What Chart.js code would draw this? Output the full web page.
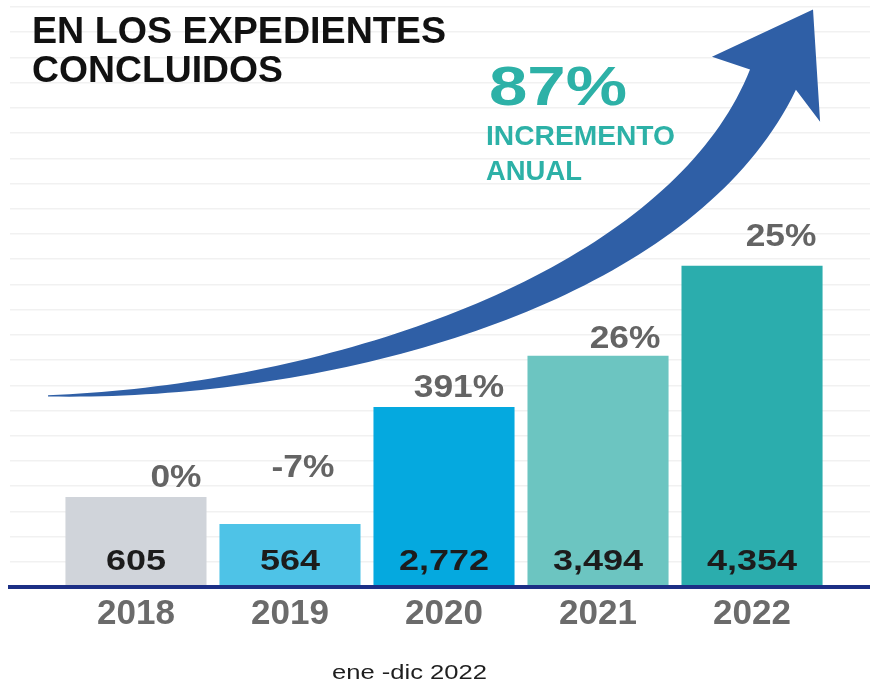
<!DOCTYPE html>
<html>
<head>
<meta charset="utf-8">
<script src="https://cdn.jsdelivr.net/npm/chart.js@4"></script>
<style>
  html, body { margin: 0; padding: 0; background: #ffffff; }
  #wrap { width: 870px; height: 684px; }
</style>
</head>
<body>
<div id="wrap"><canvas id="c" width="870" height="684"></canvas></div>
<script>
// ---- data ----
const years = ['2018', '2019', '2020', '2021', '2022'];
const expedientes = [605, 564, 2772, 3494, 4354];          // printed inside the bars
const variacion = ['0%', '-7%', '391%', '26%', '25%'];      // printed above the bars
// bar heights as drawn in the infographic (not proportional to the counts), in grid-line units
const barHeights = [3.57, 2.50, 7.14, 9.17, 12.74];
const titleLines = ['EN LOS EXPEDIENTES', 'CONCLUIDOS'];
const headline = '87%';
const headlineText = ['INCREMENTO', 'ANUAL'];
const periodo = 'ene -dic 2022';

// ---- styles ----
const barColors = ['#d0d4da', '#4ec3e7', '#05a9df', '#6cc5c1', '#2badad'];
const pctDX = [40, 13, 15, 27, 29];     // label offset from bar centre (px)
const pctGap = [10, 47, 10, 8, 20];     // gap between bar top and label baseline (px)
// decorative arrow: centre-line bezier and head, in axis units (x: category index, y: grid units)
const arrowCurve = [[-0.571, 7.58], [1.260, 7.70], [3.532, 11.79], [4.136, 20.12]];
const arrowHead = [[3.740, 21.03], [4.396, 22.90], [4.442, 18.45]];
const arrowNeckHalfWidth = 24.5;

const SANS = '"Liberation Sans", Arial, Helvetica, sans-serif';

function drawText(ctx, text, x, y, font, color, opts) {
  opts = opts || {};
  ctx.save();
  ctx.font = font;
  ctx.fillStyle = color;
  ctx.textBaseline = 'alphabetic';
  ctx.textAlign = 'left';
  const mw = ctx.measureText(text).width;
  const sx = opts.width ? opts.width / mw : (opts.sx || 1);
  const w = mw * sx;
  const left = opts.align === 'center' ? x - w / 2 : (opts.align === 'right' ? x - w : x);
  ctx.translate(left, y);
  ctx.scale(sx, 1);
  ctx.fillText(text, 0, 0);
  ctx.restore();
}

const arrowPlugin = {
  id: 'arrow',
  beforeDatasetsDraw(chart) {
    const {ctx, scales: {x, y}} = chart;
    const px = p => [x.getPixelForValue(p[0]), y.getPixelForValue(p[1])];
    const [P0, P1, P2, P3] = arrowCurve.map(px);
    const head = arrowHead.map(px);
    const B = t => {
      const u = 1 - t;
      return [u*u*u*P0[0] + 3*u*u*t*P1[0] + 3*u*t*t*P2[0] + t*t*t*P3[0],
              u*u*u*P0[1] + 3*u*u*t*P1[1] + 3*u*t*t*P2[1] + t*t*t*P3[1]];
    };
    const D = t => {
      const u = 1 - t;
      return [3*u*u*(P1[0]-P0[0]) + 6*u*t*(P2[0]-P1[0]) + 3*t*t*(P3[0]-P2[0]),
              3*u*u*(P1[1]-P0[1]) + 6*u*t*(P2[1]-P1[1]) + 3*t*t*(P3[1]-P2[1])];
    };
    const N = 80, upper = [], lower = [];
    for (let i = 0; i <= N; i++) {
      const t = i / N, c = B(t), d = D(t);
      const len = Math.hypot(d[0], d[1]) || 1;
      const n = [d[1] / len, -d[0] / len];
      const hw = 0.6 + arrowNeckHalfWidth * t;
      upper.push([c[0] + n[0] * hw, c[1] + n[1] * hw]);
      lower.push([c[0] - n[0] * hw, c[1] - n[1] * hw]);
    }
    ctx.save();
    ctx.fillStyle = '#2f5fa6';
    ctx.beginPath();
    ctx.moveTo(upper[0][0], upper[0][1]);
    upper.forEach(p => ctx.lineTo(p[0], p[1]));
    head.forEach(p => ctx.lineTo(p[0], p[1]));
    for (let i = lower.length - 1; i >= 0; i--) ctx.lineTo(lower[i][0], lower[i][1]);
    ctx.closePath();
    ctx.fill();
    ctx.restore();
  }
};

const textPlugin = {
  id: 'texts',
  afterDraw(chart) {
    const {ctx, scales: {x, y}} = chart;
    // title
    drawText(ctx, titleLines[0], 32, 43, 'bold 37px ' + SANS, '#111111', {width: 414});
    drawText(ctx, titleLines[1], 32, 82, 'bold 37px ' + SANS, '#111111', {width: 251});
    // headline
    drawText(ctx, headline, 489, 105, 'bold 56px ' + SANS, '#2db1a7', {width: 138});
    drawText(ctx, headlineText[0], 486, 145, 'bold 28px ' + SANS, '#2db1a7', {width: 189});
    drawText(ctx, headlineText[1], 486, 180, 'bold 28px ' + SANS, '#2db1a7', {width: 96});
    // bar labels
    const base = y.getPixelForValue(0);
    years.forEach((yr, i) => {
      const cx = x.getPixelForValue(i);
      const top = y.getPixelForValue(barHeights[i]);
      drawText(ctx, expedientes[i].toLocaleString('en-US'), cx, base - 17,
        'bold 30px ' + SANS, '#1c1c1c', {sx: 1.2, align: 'center'});
      drawText(ctx, variacion[i], cx + pctDX[i], top - pctGap[i],
        'bold 31px ' + SANS, '#646464', {sx: 1.14, align: 'center'});
    });
    // period note
    drawText(ctx, periodo, 332, 679, '20px ' + SANS, '#1e1e1e', {width: 155});
  }
};

new Chart(document.getElementById('c'), {
  type: 'bar',
  data: {
    datasets: [{
      data: barHeights.map((h, i) => ({x: i, y: h})),
      backgroundColor: barColors,
      borderWidth: 0,
      barPercentage: 0.916,
      categoryPercentage: 1
    }]
  },
  options: {
    responsive: false,
    animation: false,
    devicePixelRatio: 1,
    layout: {padding: {top: 7, left: 10, right: 0, bottom: 0}},
    plugins: {legend: {display: false}, tooltip: {enabled: false}, title: {display: false}},
    scales: {
      x: {
        type: 'linear',
        position: 'bottom',
        offset: false,
        min: -0.818,
        max: 4.766,
        afterBuildTicks: s => { s.ticks = years.map((_, i) => ({value: i})); },
        afterFit: s => { s.height = 97; },
        grid: {display: false, drawTicks: false, offset: false},
        border: {display: true, color: '#1c2f85', width: 4, z: 1},
        ticks: {
          padding: 6,
          color: '#6b6b6b',
          font: {family: SANS, size: 35, weight: 'bold'},
          maxRotation: 0,
          autoSkip: false,
          callback: v => years[v] !== undefined ? years[v] : ''
        }
      },
      y: {
        min: 0,
        max: 23,
        afterFit: s => { s.width = 0; },
        ticks: {display: false, stepSize: 1},
        border: {display: false},
        grid: {color: '#f1f1f1', lineWidth: 1.5, drawTicks: false}
      }
    }
  },
  plugins: [arrowPlugin, textPlugin]
});
</script>
</body>
</html>
